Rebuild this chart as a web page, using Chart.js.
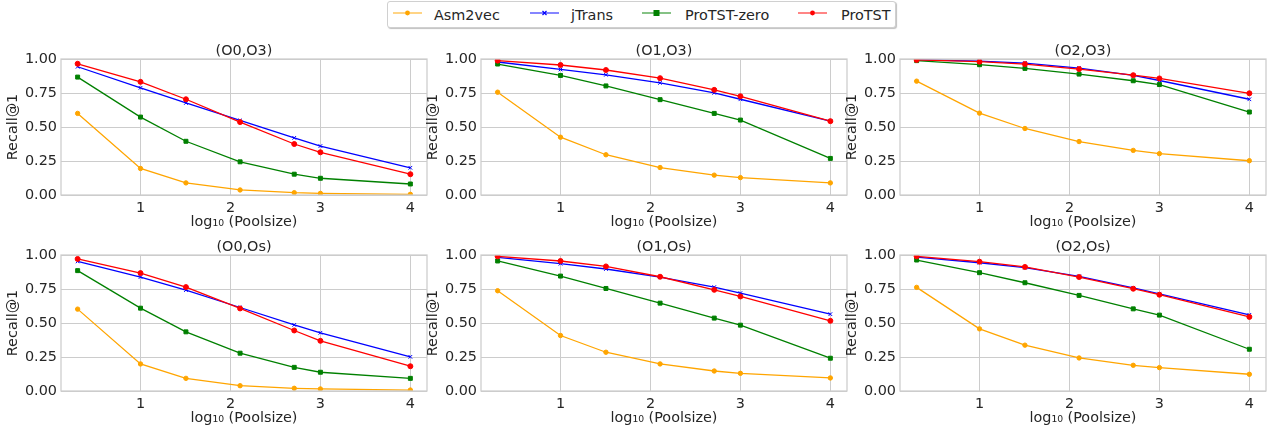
<!DOCTYPE html>
<html>
<head>
<meta charset="utf-8">
<script src="https://cdn.jsdelivr.net/npm/chart.js@4.4.1/dist/chart.umd.min.js"></script>
<style>
  body { margin: 0; background: #fff; width: 1271px; height: 434px; overflow: hidden; position: relative; font-family: "DejaVu Sans", sans-serif; color: #262626; }
  canvas.panel { position: absolute; }
  #legend { position: absolute; left: 387px; top: 1px; width: 507px; height: 25px; border: 1px solid #d0d0d0; border-radius: 3px; box-shadow: 1px 1px 1px rgba(0,0,0,0.25); background: #fff; }
  #legend svg { position: absolute; top: 5px; }
  #legend span { position: absolute; top: 4.5px; font-size: 14.4px; white-space: nowrap; }
</style>
</head>
<body>
<div id="legend"></div>

<script>
// log10(Poolsize) positions of the points
var xVals = [0.301, 1, 1.505, 2.107, 2.709, 3, 4]
var xTicks = [1, 2, 3, 4]
var yTicks = [0, 0.25, 0.5, 0.75, 1]

var seriesNames = ['Asm2vec', 'jTrans', 'ProTST-zero', 'ProTST']
var panelTitles = ['(O0,O3)', '(O1,O3)', '(O2,O3)', '(O0,Os)', '(O1,Os)', '(O2,Os)']

// (O0,O3)
var o0o3_asm2vec = [0.60, 0.195, 0.089, 0.037, 0.017, 0.012, 0.005]
var o0o3_jtrans  = [0.943, 0.788, 0.677, 0.548, 0.420, 0.360, 0.200]
var o0o3_zero    = [0.867, 0.573, 0.395, 0.244, 0.153, 0.123, 0.081]
var o0o3_protst  = [0.965, 0.832, 0.704, 0.536, 0.375, 0.314, 0.153]
// (O1,O3)
var o1o3_asm2vec = [0.756, 0.425, 0.296, 0.202, 0.146, 0.128, 0.089]
var o1o3_jtrans  = [0.978, 0.923, 0.884, 0.825, 0.751, 0.704, 0.543]
var o1o3_zero    = [0.963, 0.879, 0.802, 0.701, 0.600, 0.551, 0.269]
var o1o3_protst  = [0.988, 0.956, 0.919, 0.859, 0.773, 0.726, 0.543]
// (O2,O3)
var o2o3_asm2vec = [0.837, 0.602, 0.489, 0.393, 0.328, 0.304, 0.252]
var o2o3_jtrans  = [0.993, 0.985, 0.970, 0.933, 0.879, 0.842, 0.704]
var o2o3_zero    = [0.988, 0.958, 0.931, 0.889, 0.840, 0.812, 0.610]
var o2o3_protst  = [0.993, 0.980, 0.963, 0.926, 0.881, 0.857, 0.748]
// (O0,Os)
var o0os_asm2vec = [0.602, 0.199, 0.093, 0.039, 0.020, 0.015, 0.007]
var o0os_jtrans  = [0.953, 0.838, 0.742, 0.614, 0.486, 0.428, 0.251]
var o0os_zero    = [0.885, 0.609, 0.435, 0.278, 0.174, 0.138, 0.093]
var o0os_protst  = [0.971, 0.867, 0.764, 0.607, 0.445, 0.369, 0.182]
// (O1,Os)
var o1os_asm2vec = [0.737, 0.408, 0.285, 0.199, 0.147, 0.130, 0.096]
var o1os_jtrans  = [0.983, 0.936, 0.897, 0.838, 0.764, 0.720, 0.565]
var o1os_zero    = [0.956, 0.845, 0.754, 0.646, 0.536, 0.484, 0.241]
var o1os_protst  = [0.990, 0.956, 0.916, 0.840, 0.744, 0.695, 0.516]
// (O2,Os)
var o2os_asm2vec = [0.762, 0.457, 0.337, 0.243, 0.189, 0.172, 0.123]
var o2os_jtrans  = [0.985, 0.943, 0.907, 0.843, 0.759, 0.715, 0.560]
var o2os_zero    = [0.963, 0.870, 0.796, 0.703, 0.604, 0.558, 0.307]
var o2os_protst  = [0.990, 0.951, 0.912, 0.838, 0.752, 0.708, 0.545]

var panelData = [
    [o0o3_asm2vec, o0o3_jtrans, o0o3_zero, o0o3_protst],
    [o1o3_asm2vec, o1o3_jtrans, o1o3_zero, o1o3_protst],
    [o2o3_asm2vec, o2o3_jtrans, o2o3_zero, o2o3_protst],
    [o0os_asm2vec, o0os_jtrans, o0os_zero, o0os_protst],
    [o1os_asm2vec, o1os_jtrans, o1os_zero, o1os_protst],
    [o2os_asm2vec, o2os_jtrans, o2os_zero, o2os_protst]
]

var colors = ['#ffa500', '#0000ff', '#008000', '#ff0000']
var markers = ['circle', 'crossRot', 'rect', 'circle']
var markerSize = [2.2, 2.6, 2.8, 2.5]

Chart.defaults.font.family = '"DejaVu Sans", sans-serif'
Chart.defaults.font.size = 14.4
Chart.defaults.color = '#262626'

// plot area positions (left, top) of each panel
var plotLefts = [61, 481, 900]
var plotTops = [58.5, 255]
var plotW = 367, plotH = 136
var padTop = 20, axisW = 61, axisH = 40, padRight = 4

// frame + panel title
var framePlugin = {
    id: 'frame',
    afterDraw: function (chart) {
        var a = chart.chartArea, ctx = chart.ctx
        ctx.save()
        ctx.strokeStyle = '#cccccc'
        ctx.lineWidth = 1.25
        ctx.strokeRect(a.left, a.top, a.right - a.left, a.bottom - a.top)
        ctx.fillStyle = '#262626'
        ctx.font = '14.4px "DejaVu Sans"'
        ctx.textAlign = 'center'
        ctx.textBaseline = 'middle'
        ctx.fillText(chart.options.plugins.panelTitle, (a.left + a.right) / 2, a.top - 8)
        ctx.restore()
    }
}

panelData.forEach(function (lines, i) {
    var col = i % 3, row = Math.floor(i / 3)
    var cv = document.createElement('canvas')
    cv.className = 'panel'
    var w = axisW + plotW + padRight, h = padTop + plotH + axisH
    cv.width = w; cv.height = h
    cv.style.left = (plotLefts[col] - axisW) + 'px'
    cv.style.top = (plotTops[row] - padTop) + 'px'
    document.body.appendChild(cv)

    var datasets = lines.map(function (vals, k) {
        return {
            label: seriesNames[k],
            data: vals.map(function (v, j) { return {x: xVals[j], y: v} }),
            borderColor: colors[k],
            backgroundColor: colors[k],
            borderWidth: 1.3,
            pointStyle: markers[k],
            pointRadius: markerSize[k],
            pointBorderWidth: 1,
            pointBorderColor: colors[k],
            pointBackgroundColor: colors[k],
            order: 3 - k,
            tension: 0
        }
    })

    new Chart(cv.getContext('2d'), {
        type: 'line',
        data: {datasets: datasets},
        options: {
            responsive: false,
            animation: false,
            devicePixelRatio: 1,
            layout: {padding: {top: padTop, right: padRight, left: 0, bottom: 0}},
            plugins: {legend: {display: false}, tooltip: {enabled: false}, panelTitle: panelTitles[i]},
            scales: {
                x: {
                    type: 'linear', min: 0.116, max: 4.185,
                    afterBuildTicks: function (s) { s.ticks = xTicks.map(function (v) { return {value: v} }) },
                    afterFit: function (s) { s.height = axisH },
                    grid: {color: '#cccccc', lineWidth: 1, drawTicks: false},
                    border: {display: false},
                    ticks: {padding: 5, color: '#262626', callback: function (v) { return String(v) }},
                    title: {display: true, text: 'log\u2081\u2080 (Poolsize)', color: '#262626', padding: {top: 0, bottom: 4.4}}
                },
                y: {
                    min: 0, max: 1,
                    afterBuildTicks: function (s) { s.ticks = yTicks.map(function (v) { return {value: v} }) },
                    afterFit: function (s) { s.width = axisW },
                    grid: {color: '#cccccc', lineWidth: 1, drawTicks: false},
                    border: {display: false},
                    ticks: {padding: 4, color: '#262626', callback: function (v) { return v.toFixed(2) }},
                    title: {display: true, text: 'Recall@1', color: '#262626', padding: {top: 4.4, bottom: 0}}
                }
            }
        },
        plugins: [framePlugin]
    })
})

// legend
var legendPos = [[5, 46], [142, 183], [254, 297], [410, 453]]
var legendSvg = [
    '<circle cx="14.5" cy="6" r="2.4" fill="#ffa500"/>',
    '<path d="M12.5 4 L16.5 8 M16.5 4 L12.5 8" stroke="#0000ff" stroke-width="1.2"/>',
    '<rect x="11.5" y="3" width="6" height="6" fill="#008000"/>',
    '<circle cx="14.5" cy="6" r="2.4" fill="#ff0000"/>'
]
var html = ''
seriesNames.forEach(function (name, k) {
    html += '<svg width="30" height="12" style="left:' + legendPos[k][0] + 'px">' +
        '<line x1="0" y1="6" x2="29" y2="6" stroke="' + colors[k] + '" stroke-opacity="0.6" stroke-width="1.6"/>' +
        legendSvg[k] + '</svg>' +
        '<span style="left:' + legendPos[k][1] + 'px">' + name + '</span>'
})
document.getElementById('legend').innerHTML = html
</script>
</body>
</html>
